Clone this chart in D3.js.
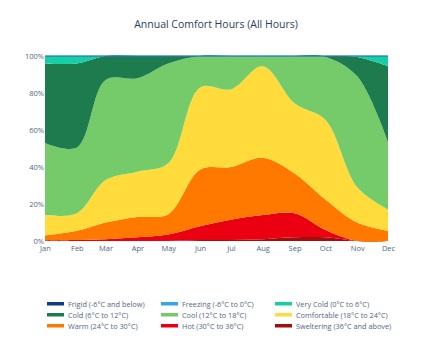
<!DOCTYPE html>
<html>
<head>
<meta charset="utf-8">
<script src="https://cdn.jsdelivr.net/npm/d3@7"></script>
<style>
  html, body { margin: 0; padding: 0; background: #fff; }
  svg { display: block; font-family: "Open Sans", sans-serif; }
</style>
</head>
<body>
<svg id="chart" width="433" height="339"></svg>
<script>
// ---- data ----
const months = ["Jan","Feb","Mar","Apr","May","Jun","Jul","Aug","Sep","Oct","Nov","Dec"];
const seriesNames = [
  "Frigid (-6°C and below)", "Freezing (-6°C to 0°C)", "Very Cold (0°C to 6°C)",
  "Cold (6°C to 12°C)", "Cool (12°C to 18°C)", "Comfortable (18°C to 24°C)",
  "Warm (24°C to 30°C)", "Hot (30°C to 36°C)", "Sweltering (36°C and above)"
];
const sweltering  = [0, 0, 0, 0, 0, 0.5, 0.5, 1, 2, 2, 0, 0];
const hot         = [0.3, 0.5, 1, 2, 3.5, 7.5, 11, 13, 13, 4, 0, 0];
const warm        = [2.7, 5, 9, 11, 11, 30.5, 28.5, 31, 21.5, 16.5, 10, 5.5];
const comfortable = [11, 9.5, 23, 24.5, 27.5, 44.5, 42, 49.5, 38, 43, 19, 11.5];
const cool        = [39, 35.5, 54, 50.5, 54, 17, 18, 5.5, 25.5, 34, 60, 36.5];
const cold        = [43, 45.5, 13, 12, 4, 0, 0, 0, 0, 0.5, 10.5, 41];
const veryCold    = [4, 4, 0, 0, 0, 0, 0, 0, 0, 0, 0.5, 5.5];
const freezing    = [0, 0, 0, 0, 0, 0, 0, 0, 0, 0, 0, 0];
const frigid      = [0, 0, 0, 0, 0, 0, 0, 0, 0, 0, 0, 0];
const yTicks = [0, 20, 40, 60, 80, 100];

const colors = {
  "Frigid (-6°C and below)": "#0a3f86",
  "Freezing (-6°C to 0°C)": "#36a8e0",
  "Very Cold (0°C to 6°C)": "#16cfa6",
  "Cold (6°C to 12°C)": "#1d7b4e",
  "Cool (12°C to 18°C)": "#75cb69",
  "Comfortable (18°C to 24°C)": "#ffdb3c",
  "Warm (24°C to 30°C)": "#ff7800",
  "Hot (30°C to 36°C)": "#ea0010",
  "Sweltering (36°C and above)": "#a00f0c"
};

// stacking order bottom -> top
const stackOrder = [
  "Sweltering (36°C and above)", "Hot (30°C to 36°C)", "Warm (24°C to 30°C)",
  "Comfortable (18°C to 24°C)", "Cool (12°C to 18°C)", "Cold (6°C to 12°C)",
  "Very Cold (0°C to 6°C)", "Freezing (-6°C to 0°C)", "Frigid (-6°C and below)"
];
const valuesByName = {
  "Sweltering (36°C and above)": sweltering, "Hot (30°C to 36°C)": hot,
  "Warm (24°C to 30°C)": warm, "Comfortable (18°C to 24°C)": comfortable,
  "Cool (12°C to 18°C)": cool, "Cold (6°C to 12°C)": cold,
  "Very Cold (0°C to 6°C)": veryCold, "Freezing (-6°C to 0°C)": freezing,
  "Frigid (-6°C and below)": frigid
};

const rows = months.map((m, i) => {
  const r = { date: new Date(2021, i, 1) };
  let total = 0;
  stackOrder.forEach(n => total += valuesByName[n][i]);
  stackOrder.forEach(n => r[n] = valuesByName[n][i] / total * 100);
  return r;
});

// ---- layout ----
const svg = d3.select("#chart");
const margin = { left: 45, right: 45, top: 56, bottom: 98 };
const W = 433, H = 339;
const x = d3.scaleTime()
  .domain([new Date(2021, 0, 1), new Date(2021, 11, 1)])
  .range([margin.left, W - margin.right]);
const y = d3.scaleLinear().domain([0, 100]).range([H - margin.bottom, margin.top]);

const stacked = d3.stack().keys(stackOrder)(rows);
const curve = d3.curveCatmullRom.alpha(0.5);
const area = d3.area()
  .x(d => x(d.data.date))
  .y0(d => y(d[0]))
  .y1(d => y(d[1]))
  .curve(curve);
const line = d3.line()
  .x(d => x(d.data.date))
  .y(d => y(d[1]))
  .curve(curve);

const plot = svg.append("g");
plot.selectAll("path.area")
  .data(stacked)
  .join("path")
  .attr("class", "area")
  .attr("fill", s => colors[s.key])
  .attr("d", area);

// thin boundary lines for zero-height top series
["Freezing (-6°C to 0°C)", "Frigid (-6°C and below)"].forEach((k, i) => {
  const s = stacked.find(t => t.key === k);
  plot.append("path")
    .attr("fill", "none")
    .attr("stroke", colors[k])
    .attr("stroke-width", 1)
    .attr("stroke-opacity", i === 0 ? 1 : 0.55)
    .attr("d", line(s));
});

// ---- axes ----
const tickColor = "#506784";
const xAxis = svg.append("g")
  .attr("transform", `translate(0,${H - margin.bottom})`)
  .call(d3.axisBottom(x).tickValues(rows.map(r => r.date))
    .tickFormat((d, i) => months[i]).tickSize(0).tickPadding(5));
xAxis.select(".domain").remove();
xAxis.selectAll("text").attr("fill", tickColor).attr("font-size", 7.5)
  .attr("font-family", "Open Sans, sans-serif");

const yAxis = svg.append("g")
  .attr("transform", `translate(${margin.left},0)`)
  .call(d3.axisLeft(y).tickValues(yTicks).tickFormat(d => d + "%")
    .tickSize(0).tickPadding(1));
yAxis.select(".domain").remove();
yAxis.selectAll("text").attr("fill", tickColor).attr("font-size", 7.5)
  .attr("font-family", "Open Sans, sans-serif");

// ---- title ----
svg.append("text")
  .attr("x", 216).attr("y", 28)
  .attr("text-anchor", "middle")
  .attr("fill", "#2a3f5f")
  .attr("font-size", 10.5)
  .text("Annual Comfort Hours (All Hours)");

// ---- legend ----
const colX = [47, 161, 275];
const rowY = [304, 315, 326];
const legend = svg.append("g");
seriesNames.forEach((n, i) => {
  const cx = colX[i % 3], cy = rowY[Math.floor(i / 3)];
  legend.append("rect").attr("x", cx).attr("y", cy - 2)
    .attr("width", 17).attr("height", 3.5).attr("fill", colors[n]);
  legend.append("text").attr("x", cx + 21).attr("y", cy + 2.6)
    .attr("fill", tickColor).attr("font-size", 7.3)
    .text(n);
});
</script>
</body>
</html>
